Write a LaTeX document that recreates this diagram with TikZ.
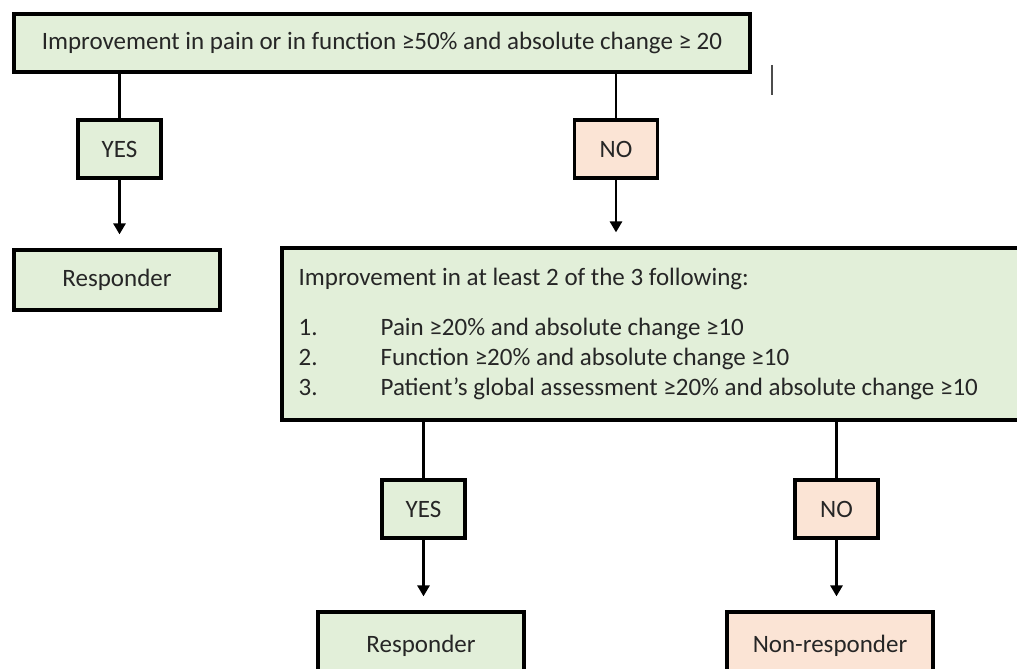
\documentclass[tikz,border=0pt]{standalone}
\usepackage{fontspec}
\setmainfont{Carlito}
\usetikzlibrary{calc,arrows.meta}
\definecolor{boxgreen}{HTML}{E2EFD9}
\definecolor{boxpink}{HTML}{FBE4D5}

\begin{document}
\begin{tikzpicture}[
		x=1pt, y=-1pt,
		box/.style={draw, line width=3.2pt, fill=boxgreen, inner sep=0pt,
			font=\fontsize{25}{30}\selectfont, text=black!85},
		nobox/.style={box, fill=boxpink},
		link/.style={line width=2.8pt},
		arr/.style={link, -{Triangle[width=12pt,length=11pt]}, shorten >=14pt}]
		\useasboundingbox (0,0) rectangle (1017,669);
		\clip (0,0) rectangle (1017,669);

		\node[box, minimum width=736, minimum height=58] (top) at (382,43)
			{Improvement in pain or in function ≥50\% and absolute change ≥ 20};
		\node[box, minimum width=83, minimum height=58] (yes1) at (119.5,149) {YES};
		\node[nobox, minimum width=83, minimum height=58] (no1) at (616,149) {NO};
		\node[box, minimum width=206, minimum height=60] (resp1) at (117,280) {Responder};
		\node[box, minimum width=748, minimum height=172] (crit) at (656,334) {};
		\node[anchor=north west, align=left, inner sep=0pt,
			font=\fontsize{25}{30}\selectfont, text=black!85] (crittext)
			at ($ (crit.north west)+(18,22) $)
			{Improvement in at least 2 of the 3 following:\\[23pt]
			\begin{tabular}{@{}p{82pt}@{}l@{}}
				1. & Pain ≥20\% and absolute change ≥10\\
				2. & Function ≥20\% and absolute change ≥10\\
				3. & Patient’s global assessment ≥20\% and absolute change ≥10
			\end{tabular}};
		\node[box, minimum width=83, minimum height=58] (yes2) at (423.5,509) {YES};
		\node[nobox, minimum width=83, minimum height=58] (no2) at (836.5,509) {NO};
		\node[box, minimum width=206, minimum height=68] (resp2) at (421,646) {Responder};
		\node[nobox, minimum width=206, minimum height=68] (nonresp) at (830,646) {Non-responder};

		\draw[link] (top.south -| yes1) -- (yes1.north);
		\draw[link] (top.south -| no1) -- (no1.north);
		\draw[arr] (yes1.south) -- (yes1.south |- resp1.north);
		\draw[arr] (no1.south) -- (no1.south |- crit.north);
		\draw[link] (crit.south -| yes2) -- (yes2.north);
		\draw[link] (crit.south -| no2) -- (no2.north);
		\draw[arr] (yes2.south) -- (yes2.south |- resp2.north);
		\draw[arr] (no2.south) -- (no2.south |- nonresp.north);

		% stray mark right of the top box
		\coordinate (marka) at (772,65);
		\coordinate (markb) at (772,95);
		\draw[line width=2pt, black!70] (marka) -- (markb);
\end{tikzpicture}
\end{document}
